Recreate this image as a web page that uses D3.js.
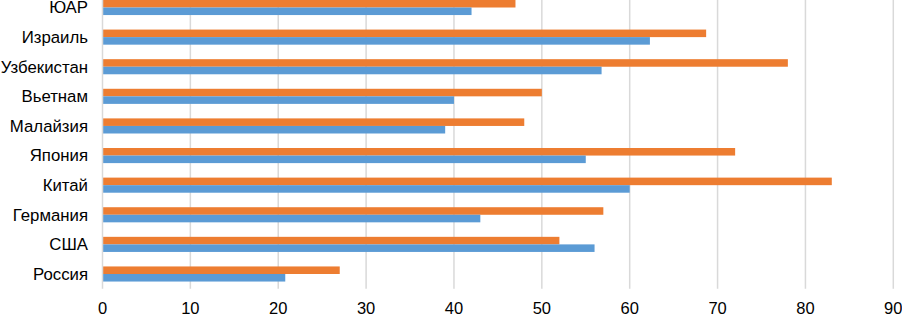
<!DOCTYPE html>
<html>
<head>
<meta charset="utf-8">
<script src="https://cdn.jsdelivr.net/npm/d3@7"></script>
<style>
  body { margin: 0; background: #fff; }
  svg { display: block; font-family: "Liberation Sans", Arial, sans-serif; }
</style>
</head>
<body>
<div id="chart"></div>
<script>
const countries = ['ЮАР', 'Израиль', 'Узбекистан', 'Вьетнам', 'Малайзия', 'Япония', 'Китай', 'Германия', 'США', 'Россия']
const orangeValues = [47, 68.7, 78, 50, 48, 72, 83, 57, 52, 27]
const blueValues = [42, 62.3, 56.8, 40, 39, 55, 60, 43, 56, 20.8]
const xTicks = [0, 10, 20, 30, 40, 50, 60, 70, 80, 90]

const width = 902
const height = 315
const margin = { top: -7.3, left: 102.5, right: 8.7, bottom: 26.2 }

const svg = d3.select('#chart')
  .append('svg')
  .attr('width', width)
  .attr('height', height)

const x = d3.scaleLinear()
  .domain([0, 90])
  .range([margin.left, width - margin.right])

const y = d3.scaleBand()
  .domain(countries)
  .range([margin.top, height - margin.bottom])
  .paddingInner(0.49)
  .paddingOuter(0.245)

const sub = d3.scaleBand()
  .domain(['orange', 'blue'])
  .range([0, y.bandwidth()])

// gridlines
svg.append('g')
  .selectAll('line')
  .data(xTicks.slice(1))
  .enter()
  .append('line')
  .attr('x1', d => x(d))
  .attr('x2', d => x(d))
  .attr('y1', 0)
  .attr('y2', height - margin.bottom)
  .attr('stroke', '#d9d9d9')
  .attr('stroke-width', 1.5)

// bars
const rows = countries.map((c, i) => ({ c, orange: orangeValues[i], blue: blueValues[i] }))
const groups = svg.append('g')
  .selectAll('g')
  .data(rows)
  .enter()
  .append('g')
  .attr('transform', d => `translate(0, ${y(d.c)})`)

groups.append('rect')
  .attr('x', x(0))
  .attr('y', sub('orange'))
  .attr('width', d => x(d.orange) - x(0))
  .attr('height', sub.bandwidth())
  .attr('fill', '#ED7D31')

groups.append('rect')
  .attr('x', x(0))
  .attr('y', sub('blue'))
  .attr('width', d => x(d.blue) - x(0))
  .attr('height', sub.bandwidth())
  .attr('fill', '#5B9BD5')

// left axis line
svg.append('line')
  .attr('x1', x(0))
  .attr('x2', x(0))
  .attr('y1', 0)
  .attr('y2', height - margin.bottom)
  .attr('stroke', '#d9d9d9')
  .attr('stroke-width', 1.5)

// category labels
svg.append('g')
  .selectAll('text')
  .data(countries)
  .enter()
  .append('text')
  .attr('x', 88)
  .attr('y', d => y(d) + y.bandwidth() / 2)
  .attr('dy', '0.35em')
  .attr('text-anchor', 'end')
  .attr('font-size', 16.8)
  .attr('fill', '#000')
  .text(d => d)

// x tick labels
svg.append('g')
  .selectAll('text')
  .data(xTicks)
  .enter()
  .append('text')
  .attr('x', d => x(d))
  .attr('y', 314)
  .attr('text-anchor', 'middle')
  .attr('font-size', 16.5)
  .attr('fill', '#000')
  .text(d => d)
</script>
</body>
</html>
